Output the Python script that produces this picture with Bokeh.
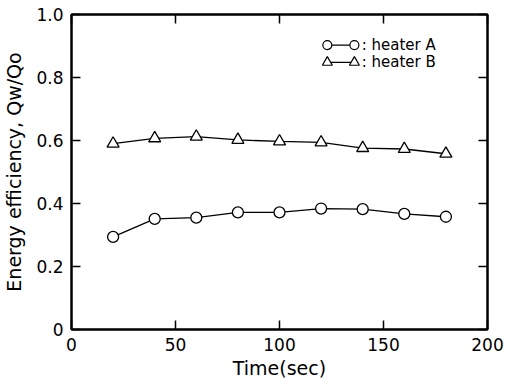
from bokeh.plotting import figure
from bokeh.models import LinearAxis, FixedTicker, Range1d
from bokeh.core.properties import value
from bokeh.embed import file_html
from bokeh.resources import INLINE

# ---- data ----
time_sec = [20, 40, 60, 80, 100, 120, 140, 160, 180]
heater_a = [0.294, 0.351, 0.355, 0.372, 0.372, 0.384, 0.382, 0.367, 0.358]
heater_b = [0.590, 0.607, 0.612, 0.602, 0.597, 0.594, 0.576, 0.573, 0.558]
x_ticks = [0, 50, 100, 150, 200]
y_ticks = [0, 0.2, 0.4, 0.6, 0.8, 1.0]
y_tick_labels = {0: "0", 0.2: "0.2", 0.4: "0.4", 0.6: "0.6", 0.8: "0.8", 1.0: "1.0"}
legend_labels = [": heater  A", ": heater  B"]

FONT = "DejaVu Sans"

p = figure(frame_width=416, frame_height=315, output_backend="svg", toolbar_location=None,
           x_range=Range1d(0, 200), y_range=Range1d(0, 1),
           min_border_left=64, min_border_right=21, min_border_top=14, min_border_bottom=48)
p.xgrid.visible = False
p.ygrid.visible = False
p.outline_line_color = "black"
p.outline_line_width = 2
p.background_fill_color = "white"
p.border_fill_color = "white"

def style_axis(ax):
    ax.axis_line_width = 2
    ax.axis_line_color = "black"
    ax.major_tick_in = 9
    ax.major_tick_out = 0
    ax.major_tick_line_width = 1.5
    ax.minor_tick_in = 0
    ax.minor_tick_out = 0
    ax.major_label_text_font = FONT
    ax.major_label_text_font_size = "17px"
    ax.major_label_text_color = "black"
    ax.axis_label_text_font = FONT
    ax.axis_label_text_font_size = "19px"
    ax.axis_label_text_font_style = "normal"
    ax.axis_label_text_color = "black"

xa = p.xaxis[0]
style_axis(xa)
xa.ticker = FixedTicker(ticks=x_ticks)
xa.axis_label = "Time(sec)"
xa.major_label_standoff = 8
xa.axis_label_standoff = 3

ya = p.yaxis[0]
style_axis(ya)
ya.ticker = FixedTicker(ticks=y_ticks)
ya.major_label_overrides = y_tick_labels
ya.axis_label = "Energy efficiency, Qw/Qo"
ya.major_label_standoff = 8
ya.axis_label_standoff = 8

ra = LinearAxis(ticker=FixedTicker(ticks=y_ticks))
style_axis(ra)
ra.major_label_overrides = {t: "" for t in y_ticks}
ra.major_label_standoff = 0
p.add_layout(ra, "right")
ta = LinearAxis(ticker=FixedTicker(ticks=x_ticks))
style_axis(ta)
ta.major_label_overrides = {t: "" for t in x_ticks}
ta.major_label_standoff = 0
p.add_layout(ta, "above")

# series
p.line(time_sec, heater_a, line_color="black", line_width=1.3)
p.scatter(time_sec, heater_a, marker="circle", size=11, fill_color="white",
          line_color="black", line_width=1.3)
p.line(time_sec, heater_b, line_color="black", line_width=1.3)
p.scatter(time_sec, heater_b, marker="triangle", size=12, fill_color="white",
          line_color="black", line_width=1.3)

# legend (drawn manually)
leg_x0, leg_x1, leg_tx = 123, 136, 139.5
leg_y = [0.903, 0.848]
markers = ["circle", "triangle"]
for yy, mk, lab in zip(leg_y, markers, legend_labels):
    p.line([leg_x0, leg_x1], [yy, yy], line_color="black", line_width=1.3)
    p.scatter([leg_x0, leg_x1], [yy, yy], marker=mk, size=9 if mk == "circle" else 10,
              fill_color="white", line_color="black", line_width=1.2)
    p.text([leg_tx], [yy], text=[lab], text_font=value(FONT), text_font_size="15px",
           text_baseline="middle", text_align="left", text_color="black")

open("out.html", "w").write(file_html(p, INLINE))
